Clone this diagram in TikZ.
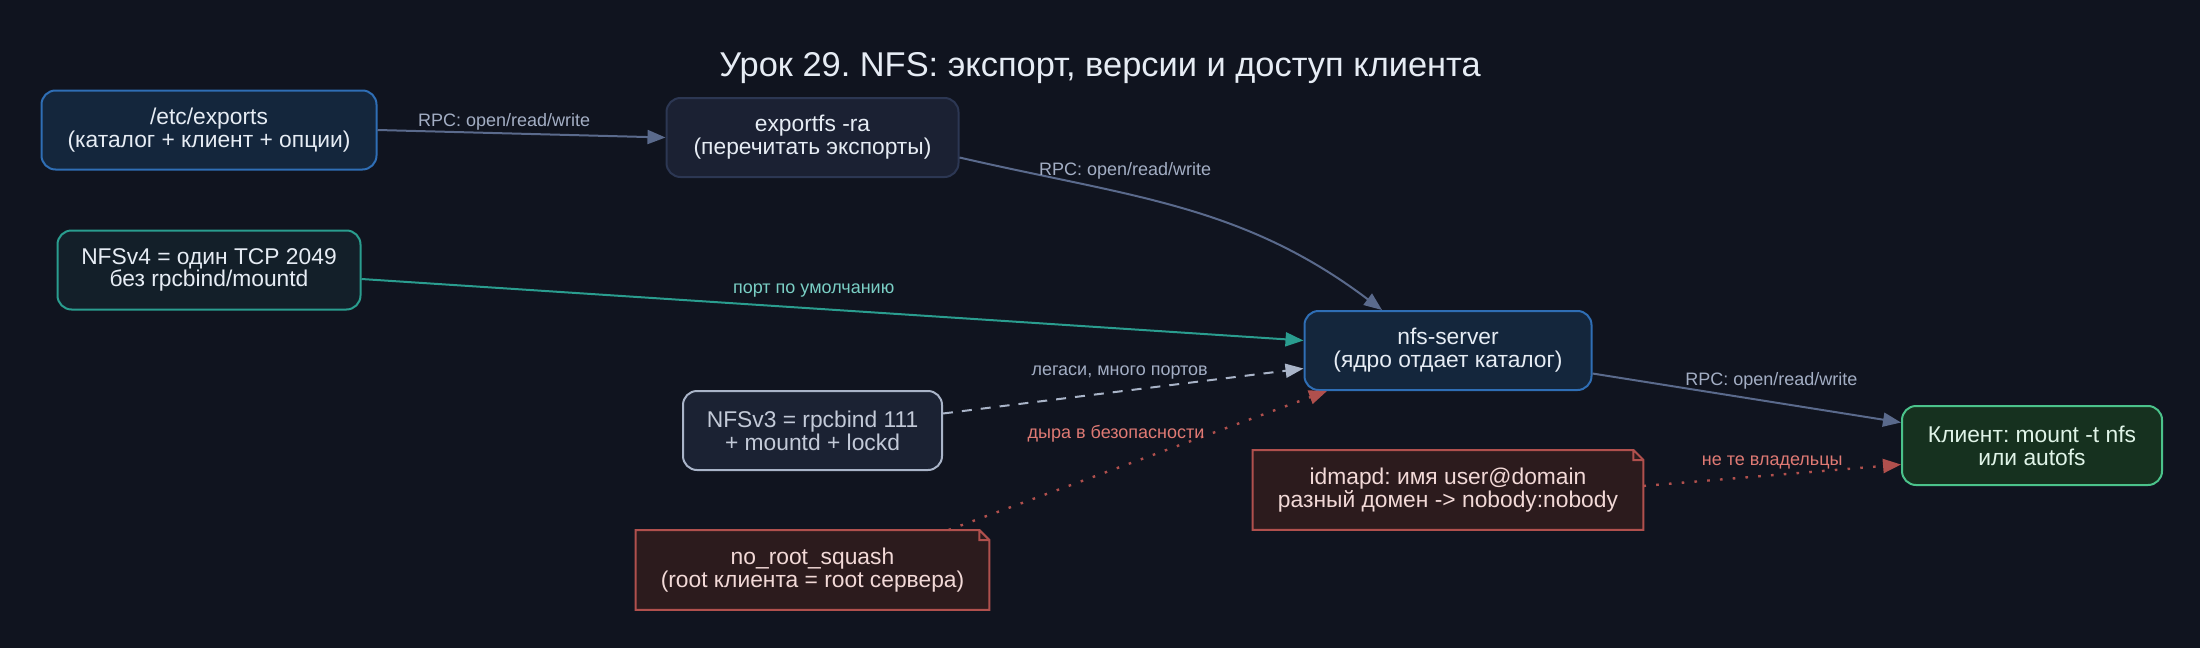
\documentclass[tikz,border=0pt]{standalone}
\usepackage{fontspec}
\setmainfont{Liberation Sans}
\frenchspacing
\usepackage{xcolor}
\usepackage{tikz}
\usetikzlibrary{arrows.meta,positioning,calc}
\definecolor{bgdark}{HTML}{10141F}
\definecolor{nfsblue}{HTML}{2F6EB5}
\definecolor{nfsnavy}{HTML}{14263C}
\definecolor{slateline}{HTML}{5A6A8C}
\definecolor{slatefill}{HTML}{1B2133}
\definecolor{slateborder}{HTML}{2C3753}
\definecolor{labelgray}{HTML}{A3AEC4}
\definecolor{tealline}{HTML}{2A9D8F}
\definecolor{tealfill}{HTML}{131F29}
\definecolor{tealtext}{HTML}{7ACFC5}
\definecolor{mistgray}{HTML}{A9B4C8}
\definecolor{mistfill}{HTML}{1B2233}
\definecolor{notered}{HTML}{B0504D}
\definecolor{notefill}{HTML}{2C1B1D}
\definecolor{redtext}{HTML}{E07A74}
\definecolor{pinktext}{HTML}{F2D9D7}
\definecolor{clientgreen}{HTML}{4BC28B}
\definecolor{clientfill}{HTML}{16311F}
\definecolor{clienttext}{HTML}{E0F4E8}
\definecolor{textwhite}{HTML}{E6ECF4}

% dog-ear outline for the note boxes
\newcommand\notefold[1]{%
  \fill[bgdark] ([xshift=-5pt]#1.north east) -- (#1.north east) -- ([yshift=-5pt]#1.north east) -- cycle;
  \draw[notered,line width=1pt] (#1.north west) -- ([xshift=-5pt]#1.north east) -- ([yshift=-5pt]#1.north east)
    -- (#1.south east) -- (#1.south west) -- cycle
    ([xshift=-5pt]#1.north east) |- ([yshift=-5pt]#1.north east);}

\begin{document}
\begin{tikzpicture}[
  box/.style={rounded corners=7pt,line width=1pt,minimum height=39.5pt,align=center,font=\fontsize{11.4}{11.4}\selectfont,text=textwhite},
  srvbox/.style={box,draw=nfsblue,fill=nfsnavy},
  cmdbox/.style={box,draw=slateborder,fill=slatefill},
  vfourbox/.style={box,draw=tealline,fill=tealfill},
  vthreebox/.style={box,draw=mistgray,fill=mistfill,text=mistgray!70!white},
  clientbox/.style={box,draw=clientgreen,fill=clientfill,text=clienttext},
  notebox/.style={fill=notefill,minimum height=39.5pt,align=center,font=\fontsize{11.4}{11.4}\selectfont,text=pinktext},
  lbl/.style={font=\fontsize{9}{10}\selectfont,text=labelgray,inner sep=1pt},
  tip/.style={-{Triangle[length=9pt,width=7pt]}},
  rpc/.style={tip,draw=slateline,line width=1pt},
  node distance=29.5pt
]
\fill[bgdark] (0,0) rectangle (1100pt,-324pt);

\node[font=\fontsize{17.2}{20}\selectfont,text=textwhite] (title) at (550pt,-34pt) {Урок 29. NFS: экспорт, версии и доступ клиента};

\node[srvbox,minimum width=167.5pt] (exports) at (104.5pt,-65pt) {/etc/exports\\(каталог + клиент + опции)};
\node[cmdbox,minimum width=146pt,right=144pt of exports,yshift=-3.75pt] (exportfs) {exportfs -ra\\(перечитать экспорты)};
\node[vfourbox,minimum width=151.5pt,below=of exports] (nfsv4) {NFSv4 = один TCP 2049\\без rpcbind/mountd};

% server and its neighbours
\node[srvbox,minimum width=143.5pt,below=66pt of exportfs,xshift=317.75pt] (server) {nfs-server\\(ядро отдает каталог)};
\node[vthreebox,minimum width=129.5pt,below=106pt of exportfs] (nfsv3) {NFSv3 = rpcbind 111\\+ mountd + lockd};
\node[notebox,minimum width=176.5pt,below=of nfsv3] (noroot) {no\_root\_squash\\(root клиента = root сервера)};
\node[notebox,minimum width=195pt,below=of server] (idmapd) {idmapd: имя user@domain\\разный домен -> nobody:nobody};
\node[clientbox,minimum width=130pt,right=154.25pt of server,yshift=-47.5pt] (client) {Клиент: mount -t nfs\\или autofs};
\notefold{noroot}
\notefold{idmapd}

% connectors
\draw[rpc] (exports.east) -- node[lbl,pos=0.44,above] {RPC: open/read/write} (exportfs.west);
\draw[rpc] ([yshift=-10pt]exportfs.east) to[out=-13,in=143] node[lbl,pos=0.36,above=6pt] {RPC: open/read/write} ([xshift=-33pt]server.north);
\draw[tip,draw=tealline,line width=1pt] ([yshift=-4.5pt]nfsv4.east) -- node[lbl,text=tealtext,pos=0.48,above=4pt] {порт по умолчанию} ([yshift=5pt]server.west);
\draw[tip,draw=mistgray,line width=1pt,dash pattern=on 5pt off 4.5pt] ([yshift=8.5pt]nfsv3.east) -- node[lbl,pos=0.49,above=4.5pt] {легаси, много портов} ([yshift=-9pt]server.west);
\draw[tip,draw=notered,line width=1.2pt,dash pattern=on 1.3pt off 5.1pt] ([xshift=68pt]noroot.north) -- node[lbl,text=redtext,pos=0.69,left=1pt] {дыра в безопасности} ([xshift=-60.5pt]server.south);
\draw[rpc] ([yshift=-11.5pt]server.east) -- node[lbl,pos=0.58,above=5pt] {RPC: open/read/write} ([yshift=11.5pt]client.west);
\draw[tip,draw=notered,line width=1.2pt,dash pattern=on 1.3pt off 5.1pt] ([yshift=2pt]idmapd.east) -- node[lbl,text=redtext,above=1.5pt] {не те владельцы} ([yshift=-9.5pt]client.west);
\end{tikzpicture}
\end{document}
